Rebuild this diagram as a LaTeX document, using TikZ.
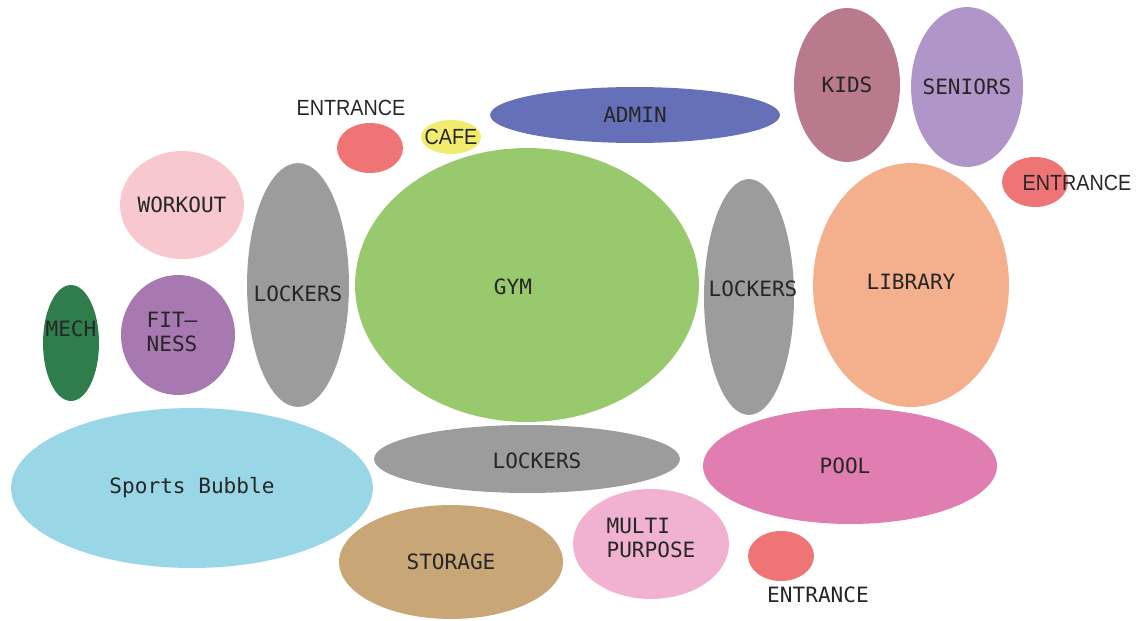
\documentclass[tikz,border=0pt]{standalone}
\usepackage{fontspec}
\setmonofont{DejaVu Sans Mono}
\newfontfamily\labelsans{Liberation Sans}
\usetikzlibrary{shapes.geometric}
\definecolor{cEntr}{HTML}{EF7475}
\definecolor{cCafe}{HTML}{F2EC6E}
\definecolor{cAdmin}{HTML}{6670B8}
\definecolor{cKids}{HTML}{B87A8C}
\definecolor{cSeniors}{HTML}{B096C8}
\definecolor{cWorkout}{HTML}{F7C8CD}
\definecolor{cLockers}{HTML}{9C9C9C}
\definecolor{cGym}{HTML}{98C96C}
\definecolor{cLibrary}{HTML}{F4B08D}
\definecolor{cMech}{HTML}{2F7D4B}
\definecolor{cFitness}{HTML}{A878B0}
\definecolor{cBubble}{HTML}{9AD7E6}
\definecolor{cPool}{HTML}{E07DB1}
\definecolor{cStorage}{HTML}{C9A676}
\definecolor{cMulti}{HTML}{F1B2D2}
\tikzset{
  room/.style={ellipse, draw=none, inner sep=0pt, font=\ttfamily\fontsize{12}{14}\selectfont, text=black!85, align=center},
  sanslabel/.style={font=\labelsans\fontsize{12.5}{14}\selectfont, xscale=0.9, text=black!85},
  monolabel/.style={font=\ttfamily\fontsize{12}{14}\selectfont, text=black!85},
}
% size in px: w = 2*rx, h = 2*ry
\newcommand{\room}[6]{\node[room, fill=#4, minimum width=#5*0.04cm, minimum height=#6*0.04cm] (#1) at (#2,#3) {};}
\begin{document}
\begin{tikzpicture}[x=0.02cm, y=-0.02cm]
\useasboundingbox (0,0) rectangle (1145,621);
% rooms
\room{entrTop}{370}{148}{cEntr}{33}{25}
\room{cafe}{451}{137}{cCafe}{30}{17}
\room{admin}{635}{115}{cAdmin}{145}{28}
\room{kids}{847}{85}{cKids}{53}{77}
\room{seniors}{967}{87}{cSeniors}{56}{80}
\room{entrRight}{1035}{182}{cEntr}{33}{25}
\room{workout}{182}{205}{cWorkout}{62}{54}
\room{lockL}{298}{285}{cLockers}{51}{122}
\room{gym}{527}{285}{cGym}{172}{137}
\room{lockR}{749}{297}{cLockers}{45}{118}
\room{library}{911}{285}{cLibrary}{98}{122}
\room{mech}{71}{343}{cMech}{28}{58}
\room{fitness}{178}{335}{cFitness}{57}{60}
\room{bubble}{192}{488}{cBubble}{181}{80}
\room{lockB}{527}{459}{cLockers}{153}{34}
\room{pool}{850}{466}{cPool}{147}{58}
\room{storage}{451}{562}{cStorage}{112}{57}
\room{multi}{651}{544}{cMulti}{78}{55}
\room{entrBot}{781}{556}{cEntr}{33}{25}
% labels
\node[sanslabel] (tEntrTop) at (351,108) {ENTRANCE};
\node[sanslabel] (tCafe) at (cafe) {CAFE};
\node[monolabel] (tAdmin) at (admin) {ADMIN};
\node[monolabel] (tKids) at (kids) {KIDS};
\node[monolabel] (tSeniors) at (seniors) {SENIORS};
\node[sanslabel] (tEntrRight) at (1077,183) {ENTRANCE};
\node[monolabel] (tWorkout) at (workout) {WORKOUT};
\node[monolabel] (tLockL) at (298,294) {LOCKERS};
\node[monolabel] (tGym) at (513,287) {GYM};
\node[monolabel] (tLockR) at (753,289) {LOCKERS};
\node[monolabel] (tLibrary) at (911,282) {LIBRARY};
\node[monolabel] (tMech) at (71,329) {MECH};
\node[monolabel, align=center] (tFitness) at (172,332) {FIT\char"2013\\NESS};
\node[monolabel] (tBubble) at (192,488) {Sports Bubble};
\node[monolabel] (tLockB) at (537,461) {LOCKERS};
\node[monolabel] (tPool) at (845,466) {POOL};
\node[monolabel] (tStorage) at (451,562) {STORAGE};
\node[monolabel, align=left] (tMulti) at (651,538) {MULTI\\PURPOSE};
\node[monolabel] (tEntrBot) at (818,595) {ENTRANCE};
\end{tikzpicture}
\end{document}
